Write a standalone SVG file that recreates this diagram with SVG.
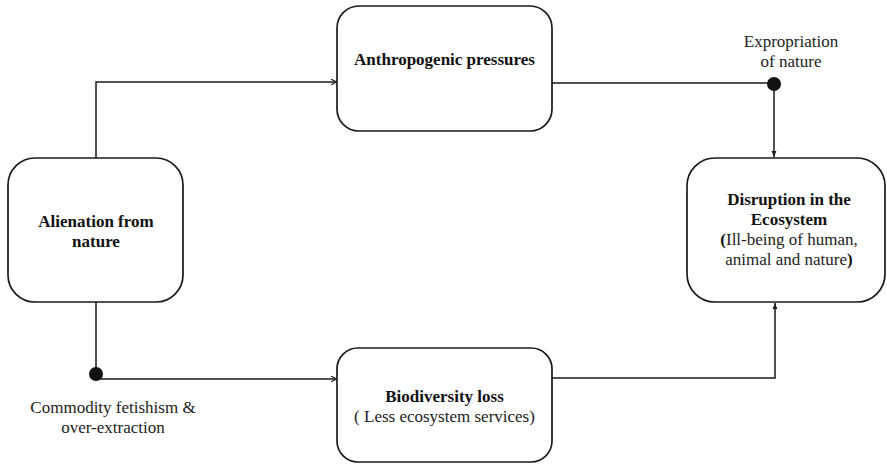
<svg xmlns="http://www.w3.org/2000/svg" width="887" height="464" viewBox="0 0 887 464">
  <style>
    .box { fill: #ffffff; stroke: #1a1a1a; stroke-width: 1.7; }
    .link { fill: none; stroke: #1a1a1a; stroke-width: 1.5; }
    .dot { fill: #111111; }
    text { font-family: 'Liberation Serif', 'Times New Roman', Tinos, 'DejaVu Serif', serif; font-size: 17px; fill: #222222; text-anchor: middle; }
    .b { font-weight: bold; fill: #111111; }
  </style>
  <defs>
    <marker id="open" viewBox="0 0 10 10" refX="9.5" refY="5" markerWidth="7" markerHeight="7" markerUnits="userSpaceOnUse" orient="auto">
      <path d="M1,1 L9.5,5 L1,9" fill="none" stroke="#1a1a1a" stroke-width="1.6"/>
    </marker>
    <marker id="solid" viewBox="0 0 10 10" refX="10" refY="5" markerWidth="6" markerHeight="6" markerUnits="userSpaceOnUse" orient="auto">
      <path d="M0,1 L10,5 L0,9 Z" fill="#1a1a1a"/>
    </marker>
  </defs>

  <!-- connectors -->
  <g id="connectors">
    <path class="link" d="M96,158 V82 H337" marker-end="url(#open)"/>
    <path class="link" d="M552,83 H774 V157" marker-end="url(#solid)"/>
    <circle class="dot" cx="774" cy="84" r="7"/>
    <path class="link" d="M96,302 V374"/>
    <path class="link" d="M100,379 H337" marker-end="url(#open)"/>
    <circle class="dot" cx="96" cy="374" r="7"/>
    <path class="link" d="M552,378 H775 V303" marker-end="url(#solid)"/>
    <text x="791" y="47" font-family="Liberation Serif, serif">Expropriation</text>
    <text x="791" y="67" font-family="Liberation Serif, serif">of nature</text>
    <text x="113" y="413" font-family="Liberation Serif, serif">Commodity fetishism &amp;</text>
    <text x="113" y="433" font-family="Liberation Serif, serif">over-extraction</text>
  </g>

  <g id="alienation">
    <rect class="box" x="8" y="158" width="175" height="144" rx="27" ry="27"/>
    <text class="b" x="96" y="227">Alienation from</text>
    <text class="b" x="96" y="247">nature</text>
  </g>

  <g id="anthropogenic">
    <rect class="box" x="337" y="6" width="215" height="125" rx="22" ry="22"/>
    <text class="b" x="444.5" y="65">Anthropogenic pressures</text>
  </g>

  <g id="disruption">
    <rect class="box" x="687" y="158" width="198" height="144" rx="28" ry="28"/>
    <text class="b" x="789" y="205">Disruption in the</text>
    <text class="b" x="789" y="225">Ecosystem</text>
    <text x="789" y="245"><tspan class="b">(</tspan>Ill-being of human,</text>
    <text x="789" y="265">animal and nature<tspan class="b">)</tspan></text>
  </g>

  <g id="biodiversity">
    <rect class="box" x="337" y="348" width="215" height="114" rx="21" ry="21"/>
    <text class="b" x="444.5" y="402">Biodiversity loss</text>
    <text x="444.5" y="422">( Less ecosystem services)</text>
  </g>
</svg>
